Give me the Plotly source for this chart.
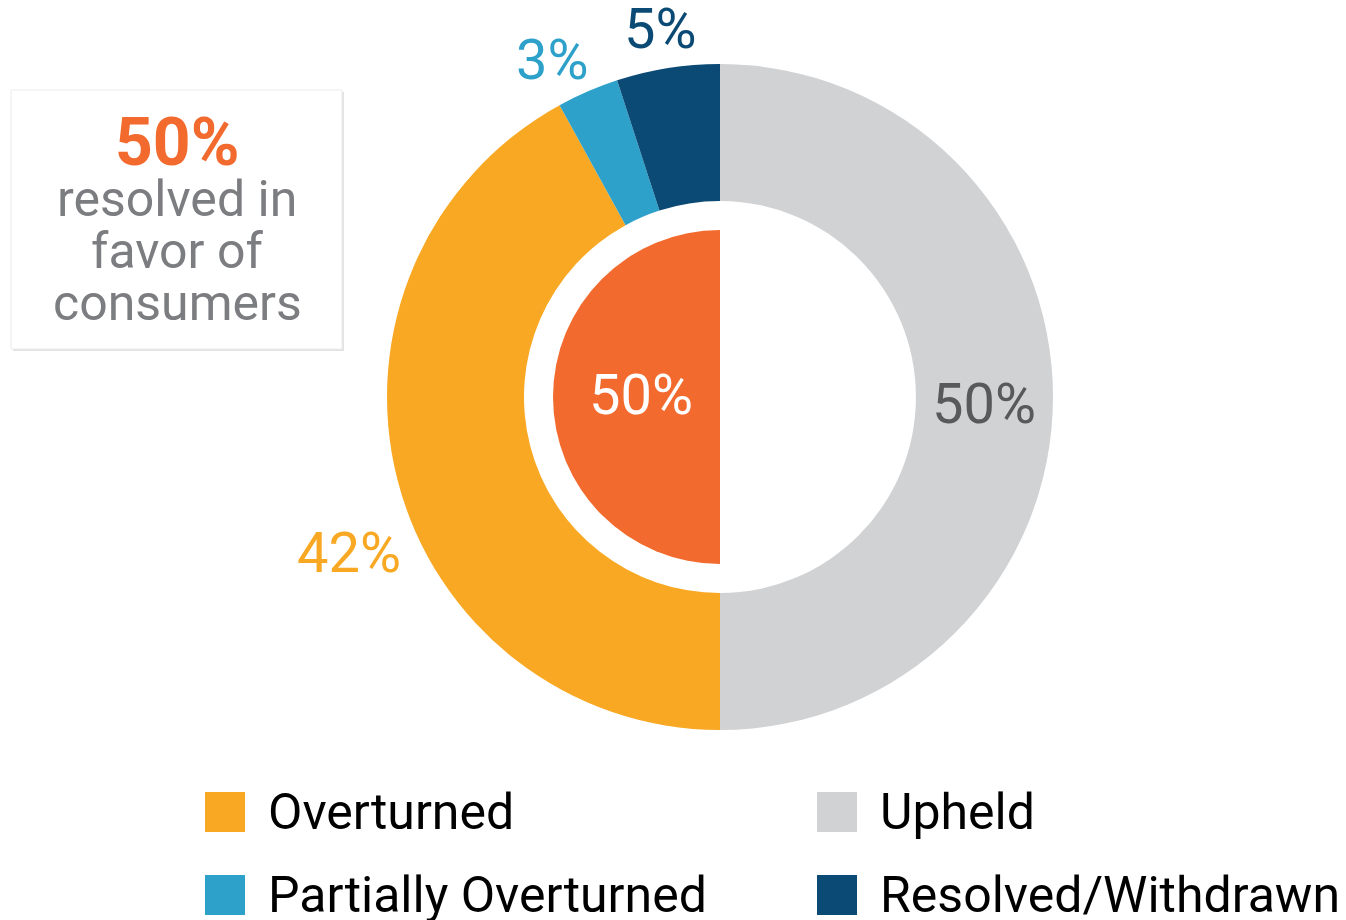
import plotly.graph_objects as go

W, H = 1346, 920

# ---- data ----
outer_labels = ["Upheld", "Overturned", "Partially Overturned", "Resolved/Withdrawn"]
outer_values = [50, 42, 3, 5]
outer_colors = ["#D1D2D4", "#F9A823", "#2EA1CB", "#0B4A74"]
outer_text_colors = ["#58595B", "#F9A823", "#2EA1CB", "#0B4A74"]

inner_labels = ["Other", "Resolved in favor of consumers"]
inner_values = [50, 50]
inner_colors = ["rgba(0,0,0,0)", "#F26A2D"]

legend_order = ["Overturned", "Upheld", "Partially Overturned", "Resolved/Withdrawn"]

callout_value = "50%"
callout_lines = ["resolved in", "favor of", "consumers"]

FONT = "Roboto"


def X(px):
    return px / W


def Y(py):
    return 1 - py / H


cx, cy = 720, 397
R_out, R_in = 333, 167

fig = go.Figure()
fig.add_trace(go.Pie(
    labels=outer_labels, values=outer_values, sort=False, direction="clockwise",
    rotation=0, hole=196 / R_out,
    marker=dict(colors=outer_colors, line=dict(width=0)),
    textinfo="none", hoverinfo="skip", showlegend=False,
    domain=dict(x=[X(cx - R_out), X(cx + R_out)], y=[Y(cy + R_out), Y(cy - R_out)]),
))
fig.add_trace(go.Pie(
    labels=inner_labels, values=inner_values, sort=False, direction="clockwise",
    rotation=0,
    marker=dict(colors=inner_colors, line=dict(width=0)),
    textinfo="none", hoverinfo="skip", showlegend=False,
    domain=dict(x=[X(cx - R_in), X(cx + R_in)], y=[Y(cy + R_in), Y(cy - R_in)]),
))

annotations = []
# percentage labels for outer ring (positions in pixels)
label_pos = [(984, 404), (349, 553), (552, 60), (660, 29)]
for v, c, (lx, ly) in zip(outer_values, outer_text_colors, label_pos):
    annotations.append(dict(x=X(lx), y=Y(ly), xref="paper", yref="paper",
                            text=f"{v}%", showarrow=False, xanchor="center", yanchor="middle",
                            font=dict(family=FONT, size=56, color=c)))
# inner label
annotations.append(dict(x=X(641), y=Y(395), xref="paper", yref="paper",
                        text=f"{inner_values[1]}%", showarrow=False, xanchor="center",
                        yanchor="middle", font=dict(family=FONT, size=56, color="white")))

# callout box text
annotations.append(dict(x=X(177), y=Y(142), xref="paper", yref="paper",
                        text=f"<b>{callout_value}</b>", showarrow=False, xanchor="center",
                        yanchor="middle", font=dict(family=FONT, size=66, color="#F26A2D")))
for i, line in enumerate(callout_lines):
    annotations.append(dict(x=X(177), y=Y(199 + 52 * i), xref="paper", yref="paper",
                            text=line, showarrow=False, xanchor="center", yanchor="middle",
                            font=dict(family=FONT, size=50, color="#7C7D80")))

shapes = [
    dict(type="rect", xref="paper", yref="paper", x0=X(13), x1=X(344), y0=Y(351), y1=Y(92),
         fillcolor="#E2E2E2", line=dict(width=0), layer="below"),
    dict(type="rect", xref="paper", yref="paper", x0=X(11), x1=X(342), y0=Y(349), y1=Y(90),
         fillcolor="white", line=dict(color="#EBEBEB", width=1), layer="below"),
]

# custom legend (2 x 2 grid)
color_map = dict(zip(outer_labels, outer_colors))
legend_cols = [205, 817]
legend_rows = [812, 895]
for i, name in enumerate(legend_order):
    lx = legend_cols[i % 2]
    ly = legend_rows[i // 2]
    shapes.append(dict(type="rect", xref="paper", yref="paper",
                       x0=X(lx), x1=X(lx + 40), y0=Y(ly + 20), y1=Y(ly - 20),
                       fillcolor=color_map[name], line=dict(width=0)))
    annotations.append(dict(x=X(lx + 61), y=Y(ly), xref="paper", yref="paper",
                            text=name, showarrow=False, xanchor="left", yanchor="middle",
                            font=dict(family=FONT, size=50, color="black")))

fig.update_layout(
    width=W, height=H,
    margin=dict(l=0, r=0, t=0, b=0),
    paper_bgcolor="white", plot_bgcolor="white",
    showlegend=False,
    annotations=annotations, shapes=shapes,
)

fig.write_html("out.html", config={"displayModeBar": False},
               post_script="document.body.style.margin='0px';document.body.style.overflow='hidden';")
